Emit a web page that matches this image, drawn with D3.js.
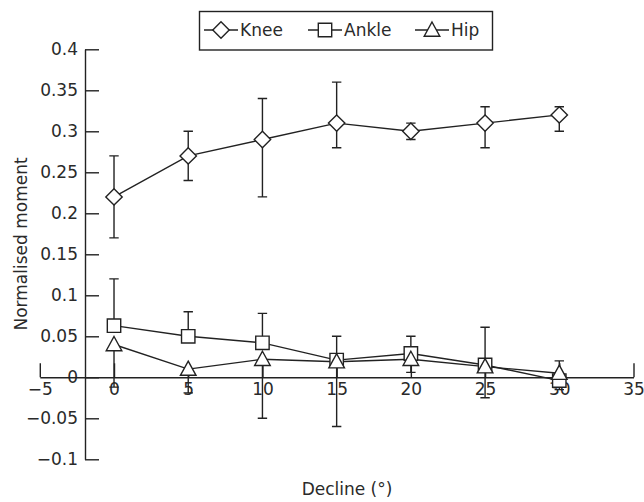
<!DOCTYPE html>
<html>
<head>
<meta charset="utf-8">
<script src="https://cdn.jsdelivr.net/npm/d3@7/dist/d3.min.js"></script>
<style>
  html, body { margin: 0; padding: 0; background: #fff; }
  svg { display: block; }
  text { font-family: "DejaVu Sans", sans-serif; fill: #2a2a2a; }
</style>
</head>
<body>
<svg id="chart" width="644" height="502"></svg>
<script>
// ---- data ----
const decline = [0, 5, 10, 15, 20, 25, 30];
const xTicks = [-5, 0, 5, 10, 15, 20, 25, 30, 35];
const yTicks = [-0.1, -0.05, 0, 0.05, 0.1, 0.15, 0.2, 0.25, 0.3, 0.35, 0.4];

const knee   = [0.22, 0.27, 0.29, 0.31, 0.30, 0.31, 0.32];
const kneeHi = [0.27, 0.30, 0.34, 0.36, 0.31, 0.33, 0.33];
const kneeLo = [0.17, 0.24, 0.22, 0.28, 0.29, 0.28, 0.30];

// ankle: only upper error bars are shown
const ankle   = [0.063, 0.050, 0.042, 0.021, 0.029, 0.015, -0.004];
const ankleHi = [0.120, 0.080, 0.078, 0.050, 0.050, 0.061, 0.020];
const ankleLo = [0.063, 0.050, 0.042, 0.021, 0.029, 0.015, -0.004];

// hip: only lower error bars are shown
const hip   = [0.040, 0.010, 0.022, 0.019, 0.022, 0.013, 0.005];
const hipHi = [0.040, 0.010, 0.022, 0.019, 0.022, 0.013, 0.005];
const hipLo = [-0.012, -0.019, -0.050, -0.060, 0.006, -0.025, -0.015];

const seriesNames = ["Knee", "Ankle", "Hip"];
const markerKinds = ["diamond", "square", "triangle"];

// ---- layout ----
const svg = d3.select("#chart");
const ink = "#222";

const x = d3.scaleLinear().domain([-5, 35]).range([39.8, 633.5]);
const y = d3.scaleLinear().domain([-0.1, 0.4]).range([459.3, 49.3]);

const fmt = d => d === 0 ? "0" : d3.format(".2~f")(d);

// y axis (ticks pointing right, labels on the left)
const yAxis = d3.axisLeft(y).tickValues(yTicks).tickFormat(fmt)
  .tickSizeInner(-14).tickSizeOuter(0).tickPadding(7);
const gy = svg.append("g").attr("transform", "translate(85,0)").call(yAxis);

// x axis at y = 0 (ticks pointing up, labels below)
const xAxis = d3.axisBottom(x).tickValues(xTicks).tickFormat(d3.format("d"))
  .tickSizeInner(-14).tickSizeOuter(0).tickPadding(6);
const gx = svg.append("g").attr("transform", `translate(0,${y(0)})`).call(xAxis);

[gy, gx].forEach(g => {
  g.selectAll(".domain").attr("stroke", ink).attr("stroke-width", 1.4);
  g.selectAll(".tick line").attr("stroke", ink).attr("stroke-width", 1.4);
  g.selectAll(".tick text").attr("font-size", 17).attr("fill", "#2a2a2a")
    .attr("font-family", "DejaVu Sans, sans-serif");
});

// axis titles
svg.append("text").attr("x", 347).attr("y", 495).attr("text-anchor", "middle")
  .attr("font-size", 17).text("Decline (°)");
svg.append("text").attr("transform", "translate(27,244) rotate(-90)")
  .attr("text-anchor", "middle").attr("font-size", 17).text("Normalised moment");

// ---- series ----
const series = [
  { name: seriesNames[0], kind: markerKinds[0], v: knee,  hi: kneeHi,  lo: kneeLo },
  { name: seriesNames[1], kind: markerKinds[1], v: ankle, hi: ankleHi, lo: ankleLo },
  { name: seriesNames[2], kind: markerKinds[2], v: hip,   hi: hipHi,   lo: hipLo }
];

function markerPath(kind) {
  if (kind === "diamond") return "M0,-8.2 L8.2,0 L0,8.2 L-8.2,0 Z";
  if (kind === "square") return "M-6.7,-6.7 H6.7 V6.7 H-6.7 Z";
  return "M0,-8 L7.8,6.2 L-7.8,6.2 Z";
}

const line = d3.line().x((d, i) => x(decline[i])).y(d => y(d));
const cap = 4.7;

const gLines = svg.append("g");
const gErr = svg.append("g");
const gMarks = svg.append("g");

series.forEach(s => {
  gLines.append("path").attr("d", line(s.v)).attr("fill", "none")
    .attr("stroke", ink).attr("stroke-width", 1.4);

  decline.forEach((dx, i) => {
    const cx = x(dx);
    const yc = y(s.v[i]);
    const p = d3.path();
    [s.hi[i], s.lo[i]].forEach(e => {
      if (e === s.v[i]) return;
      const ye = y(e);
      p.moveTo(cx, yc); p.lineTo(cx, ye);
      p.moveTo(cx - cap, ye); p.lineTo(cx + cap, ye);
    });
    gErr.append("path").attr("d", p.toString()).attr("fill", "none")
      .attr("stroke", ink).attr("stroke-width", 1.4);
  });
});

series.forEach(s => {
  gMarks.selectAll(null).data(s.v).enter().append("path")
    .attr("d", markerPath(s.kind))
    .attr("transform", (d, i) => `translate(${x(decline[i])},${y(d)})`)
    .attr("fill", "#fff").attr("stroke", ink).attr("stroke-width", 1.4);
});

// ---- legend ----
const lg = svg.append("g");
lg.append("rect").attr("x", 199.5).attr("y", 11.5).attr("width", 293).attr("height", 38.5)
  .attr("fill", "#fff").attr("stroke", ink).attr("stroke-width", 1.4);
const legendX = [204, 308, 415];
series.forEach((s, k) => {
  const x0 = legendX[k], cy = 30;
  lg.append("line").attr("x1", x0).attr("x2", x0 + 34).attr("y1", cy).attr("y2", cy)
    .attr("stroke", ink).attr("stroke-width", 1.4);
  lg.append("path").attr("d", markerPath(s.kind))
    .attr("transform", `translate(${x0 + 17},${cy})`)
    .attr("fill", "#fff").attr("stroke", ink).attr("stroke-width", 1.4);
  lg.append("text").attr("x", x0 + 36).attr("y", cy + 6.3).attr("font-size", 17).text(s.name);
});
</script>
</body>
</html>
